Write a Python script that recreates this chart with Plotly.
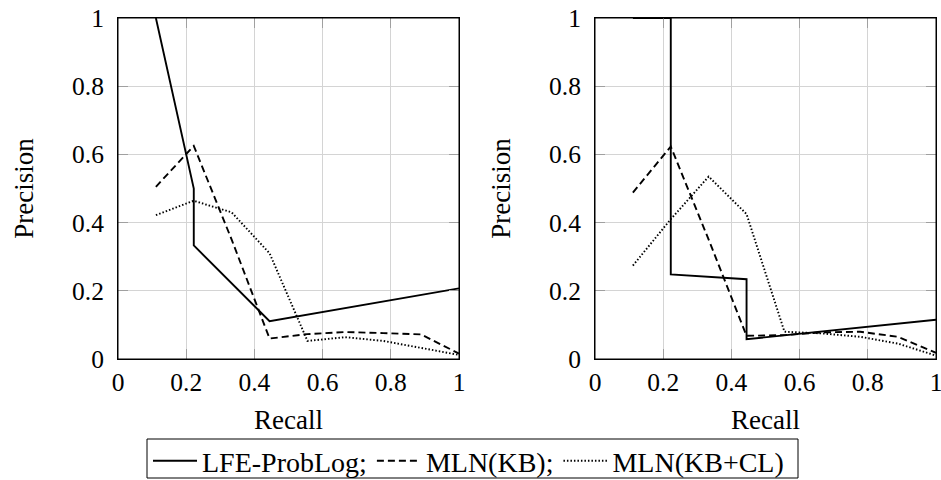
import plotly.graph_objects as go

# Left panel
left_lfe_x = [1/9, 2/9, 2/9, 4/9, 1.0]
left_lfe_y = [1.0, 0.5, 0.333, 0.111, 0.207]
left_kb_x = [1/9, 2/9, 3/9, 4/9, 5/9, 6/9, 7/9, 8/9, 1.0]
left_kb_y = [0.505, 0.625, 0.35, 0.06, 0.073, 0.079, 0.076, 0.072, 0.016]
left_cl_x = [1/9, 2/9, 3/9, 4/9, 5/9, 6/9, 7/9, 8/9, 1.0]
left_cl_y = [0.422, 0.464, 0.43, 0.31, 0.053, 0.064, 0.053, 0.033, 0.012]

# Right panel
right_lfe_x = [1/9, 2/9, 2/9, 4/9, 4/9, 1.0]
right_lfe_y = [1.0, 1.0, 0.248, 0.234, 0.058, 0.115]
right_kb_x = [1/9, 2/9, 3/9, 4/9, 5/9, 6/9, 7/9, 8/9, 1.0]
right_kb_y = [0.488, 0.623, 0.35, 0.068, 0.07, 0.078, 0.08, 0.065, 0.018]
right_cl_x = [1/9, 2/9, 3/9, 4/9, 5/9, 6/9, 7/9, 8/9, 1.0]
right_cl_y = [0.274, 0.41, 0.535, 0.425, 0.08, 0.075, 0.065, 0.045, 0.01]

tick_vals = [0, 0.2, 0.4, 0.6, 0.8, 1]
tick_text = ["0", "0.2", "0.4", "0.6", "0.8", "1"]

names = ["LFE-ProbLog;", "MLN(KB);", "MLN(KB+CL)"]
dashes = ["solid", "7px,4px", "1.5px,2px"]

FONT = "Liberation Serif"
TFS = 25.5   # tick labels
AFS = 27     # axis titles
LFS = 28     # legend

fig = go.Figure()

panels = [
    ("x", "y", [(left_lfe_x, left_lfe_y), (left_kb_x, left_kb_y), (left_cl_x, left_cl_y)]),
    ("x2", "y2", [(right_lfe_x, right_lfe_y), (right_kb_x, right_kb_y), (right_cl_x, right_cl_y)]),
]
for pi, (xa, ya, series) in enumerate(panels):
    for si, (xs, ys) in enumerate(series):
        fig.add_trace(go.Scatter(
            x=xs, y=ys, mode="lines", xaxis=xa, yaxis=ya,
            name=names[si], showlegend=(pi == 0),
            line=dict(color="black", width=1.9, dash=dashes[si]),
        ))

W, H = 941, 480
L, R, T, B = 118, 5, 18, 121
PW = W - L - R
PH = H - T - B

def px_x(p):
    return (p - L) / PW

def px_y(p):
    return (H - B - p) / PH

def ax_common():
    return dict(
        range=[0, 1], tickvals=tick_vals, ticktext=tick_text,
        showgrid=True, gridcolor="#d4d4d4", gridwidth=1,
        showline=True, linecolor="black", linewidth=1, mirror="ticks",
        ticks="inside", ticklen=10, tickcolor="#a0a0a0", tickwidth=1,
        zeroline=False, fixedrange=True, ticklabeloverflow="allow",
        tickfont=dict(family=FONT, size=TFS, color="black"),
    )

xd1 = [0, 341 / PW]
xd2 = [px_x(595), 1]
tfont = dict(family=FONT, size=AFS, color="black")

frames = [
    dict(type="rect", xref=f"{xa} domain", yref=f"{ya} domain",
         x0=0, x1=1, y0=0, y1=1, line=dict(color="black", width=1),
         fillcolor="rgba(0,0,0,0)", layer="above")
    for xa, ya in [("x", "y"), ("x2", "y2")]
]

fig.update_layout(
    width=W, height=H,
    margin=dict(l=L, r=R, t=T, b=B, autoexpand=False),
    paper_bgcolor="white", plot_bgcolor="white",
    font=dict(family=FONT, size=AFS, color="black"),
    xaxis=dict(domain=xd1, anchor="y", ticklabelstandoff=0,
               title=dict(text="Recall", standoff=14, font=tfont), **ax_common()),
    yaxis=dict(domain=[0, 1], anchor="x", ticklabelstandoff=8,
               title=dict(text="Precision", standoff=30, font=tfont), **ax_common()),
    xaxis2=dict(domain=xd2, anchor="y2", ticklabelstandoff=0,
                title=dict(text="Recall", standoff=14, font=tfont), **ax_common()),
    yaxis2=dict(domain=[0, 1], anchor="x2", ticklabelstandoff=8,
                title=dict(text="Precision", standoff=30, font=tfont), **ax_common()),
    legend=dict(
        orientation="h", x=px_x(148), y=px_y(436),
        xanchor="left", yanchor="top",
        bgcolor="rgba(0,0,0,0)", borderwidth=0,
        font=dict(family=FONT, size=LFS, color="black"),
        itemwidth=44,
    ),
    shapes=[dict(
        type="rect", xref="paper", yref="paper",
        x0=px_x(147), x1=px_x(798),
        y0=px_y(478), y1=px_y(439),
        line=dict(color="black", width=1), fillcolor="white", layer="below",
    )] + frames,
)

fig.write_html(
    "out.html",
    config={"displayModeBar": False},
    post_script=(
        "document.body.style.margin='0px';"
        "document.body.style.overflow='hidden';"
        "document.documentElement.style.overflow='hidden';"
    ),
)
